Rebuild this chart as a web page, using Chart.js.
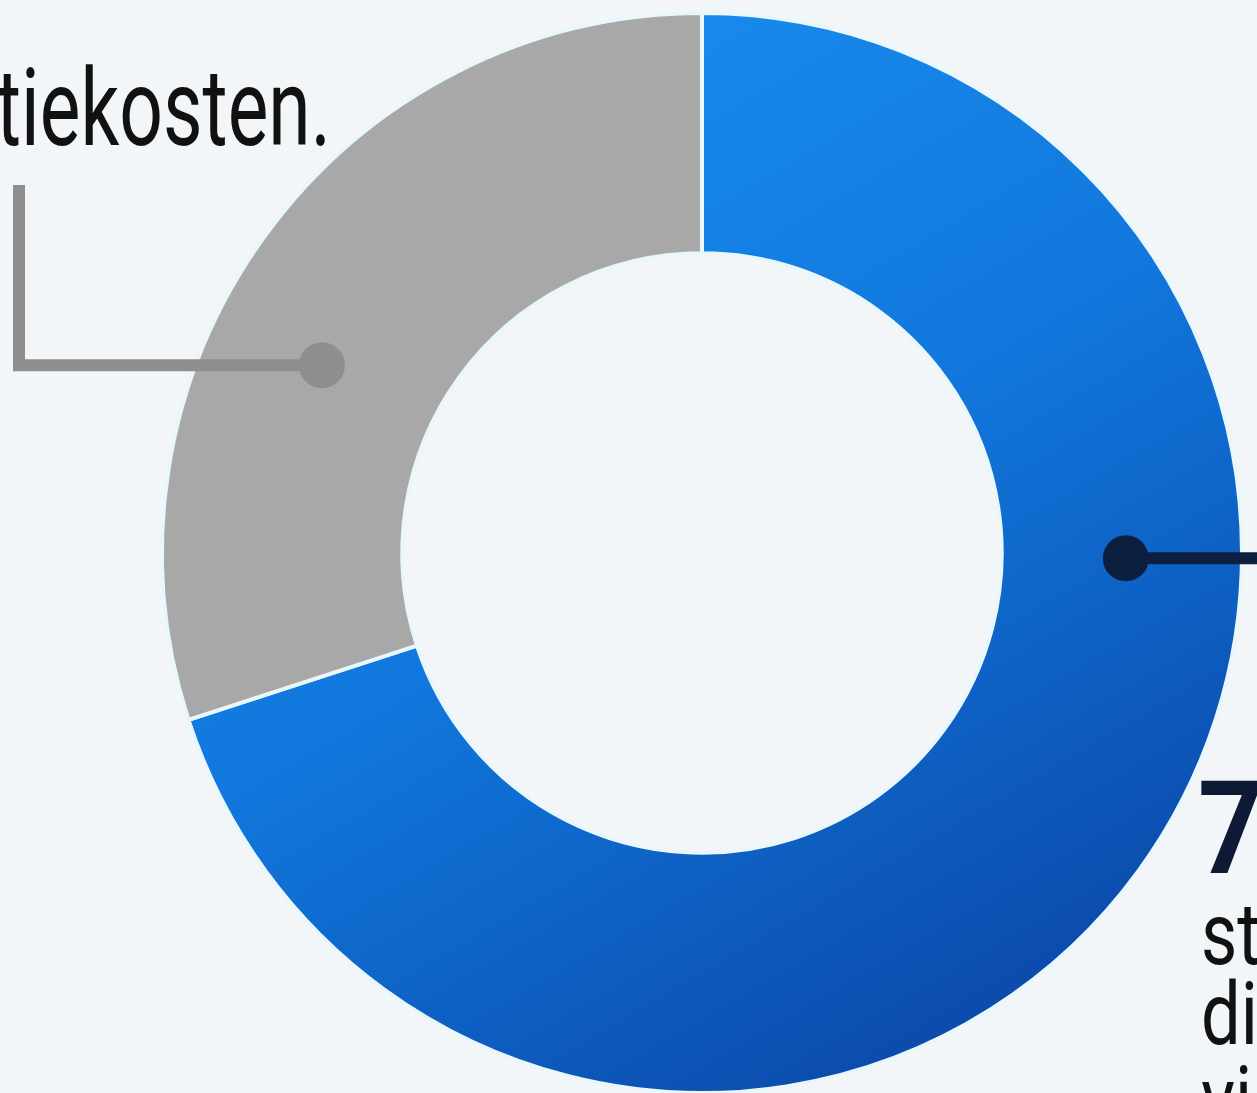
<!DOCTYPE html>
<html>
<head>
<meta charset="utf-8">
<script src="https://cdn.jsdelivr.net/npm/chart.js@4"></script>
<style>
  html, body { margin: 0; padding: 0; }
  body { width: 1257px; height: 1093px; overflow: hidden; position: relative;
         background: #f3f6f8; font-family: Roboto, "Noto Sans", sans-serif; }
  #wrap { position: absolute; left: 0; top: 0; width: 1257px; height: 1096px; }
  .txt { position: absolute; white-space: nowrap; transform-origin: left top; color: #111; }
  #left { left: -4px; top: 43px; font-size: 108px; line-height: 130px; transform: scaleX(0.71); }
  #big { left: 1198px; top: 764px; font-size: 130px; font-weight: 700; line-height: 130px; color: #0c1a33; transform: scaleX(0.88); }
  .sub { left: 1201px; font-size: 88px; line-height: 80px; color: #111; transform: scaleX(0.8); }
</style>
</head>
<body>
<div id="wrap"><canvas id="donut"></canvas></div>
<div class="txt" id="left">tiekosten.</div>
<div class="txt" id="big">7</div>
<div class="txt sub" style="top:894px">st</div>
<div class="txt sub" style="top:974px">di</div>
<div class="txt sub" style="top:1058px">vi</div>
<script>
// data
const labels = ['Overig', 'Productiekosten'];
const values = [70, 30];
const segmentColors = ['blue', '#a8a8a8'];

// where along each segment the leader dot sits (0 = start, 1 = end) and style
const leaderPos = [0.36, 0.41];
const leaderColors = ['#0d1f3f', '#8e8e8e'];

function blueGradient(chart) {
    const area = chart.chartArea;
    if (!area) return '#1580e0';
    const g = chart.ctx.createLinearGradient(area.left + 300, area.top, area.right - 150, area.bottom);
    g.addColorStop(0, '#1a8ef0');
    g.addColorStop(0.45, '#1177dc');
    g.addColorStop(1, '#0a42a2');
    return g;
}

const leaders = {
    id: 'leaders',
    afterDatasetsDraw(chart) {
        const ctx = chart.ctx;
        const meta = chart.getDatasetMeta(0);
        meta.data.forEach((arc, i) => {
            const p = arc.getProps(['x', 'y', 'startAngle', 'endAngle', 'innerRadius', 'outerRadius']);
            const a = p.startAngle + (p.endAngle - p.startAngle) * leaderPos[i];
            const r = (p.innerRadius + p.outerRadius) / 2 + 4;
            const dx = p.x + Math.cos(a) * r;
            const dy = p.y + Math.sin(a) * r;
            ctx.save();
            ctx.strokeStyle = leaderColors[i];
            ctx.fillStyle = leaderColors[i];
            ctx.lineWidth = 12;
            ctx.lineCap = 'butt';
            ctx.lineJoin = 'miter';
            ctx.beginPath();
            if (i === 0) {
                ctx.moveTo(dx, dy);
                ctx.lineTo(chart.width + 10, dy);
            } else {
                // elbow going left then up toward the label
                ctx.moveTo(dx, dy);
                ctx.lineTo(19, dy);
                ctx.lineTo(19, 185);
            }
            ctx.stroke();
            ctx.beginPath();
            ctx.arc(dx, dy, 23, 0, Math.PI * 2);
            ctx.fill();
            ctx.restore();
        });
    }
};

new Chart(document.getElementById('donut'), {
    type: 'doughnut',
    data: {
        labels: labels,
        datasets: [{
            data: values,
            backgroundColor: (c) => segmentColors[c.dataIndex] === 'blue' ? blueGradient(c.chart) : segmentColors[c.dataIndex],
            borderColor: '#e9f7fb',
            borderWidth: 4,
            borderAlign: 'center'
        }]
    },
    options: {
        responsive: true,
        maintainAspectRatio: false,
        animation: false,
        cutout: '55.5%',
        layout: { padding: { left: 160, right: 13, top: 11, bottom: 1 } },
        plugins: {
            legend: { display: false },
            tooltip: { enabled: false }
        }
    },
    plugins: [leaders]
});
</script>
</body>
</html>
